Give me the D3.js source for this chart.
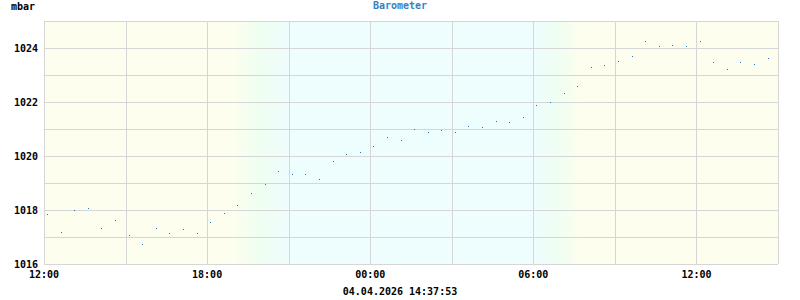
<!DOCTYPE html>
<html>
<head>
<meta charset="utf-8">
<script src="https://cdn.jsdelivr.net/npm/d3@7"></script>
<style>
  html, body { margin: 0; padding: 0; background: #fff; }
  svg text { font-family: "DejaVu Sans Mono", monospace; font-weight: bold; font-size: 10px; }
</style>
</head>
<body>
<div id="chart"></div>
<script>
// ── données ────────────────────────────────────────────────
const title     = 'Barometer';
const unitLabel = 'mbar';
const stamp     = '04.04.2026 14:37:53';

const startDay = '2026-04-03';
const nextDay  = '2026-04-04';
const xStart   = '2026-04-03T12:00';
const xEnd     = '2026-04-04T15:00';

const sampleTimes = [
  '12:08','12:38','13:08','13:38','14:08','14:38','15:08','15:38','16:08','16:38',
  '17:08','17:38','18:08','18:38','19:08','19:38','20:08','20:38','21:08','21:38',
  '22:08','22:38','23:08','23:38','00:08','00:38','01:08','01:38','02:08','02:38',
  '03:08','03:38','04:08','04:38','05:08','05:38','06:08','06:38','07:08','07:38',
  '08:08','08:38','09:08','09:38','10:08','10:38','11:08','11:38','12:08','12:38',
  '13:08','13:38','14:08','14:38'
];
const pressure = [
  1017.84, 1017.17, 1017.99, 1018.06, 1017.32, 1017.62, 1017.06, 1016.73, 1017.32, 1017.14,
  1017.29, 1017.14, 1017.54, 1017.88, 1018.17, 1018.62, 1018.95, 1019.43, 1019.32, 1019.32,
  1019.14, 1019.80, 1020.06, 1020.14, 1020.36, 1020.69, 1020.58, 1020.99, 1020.88, 1020.95,
  1020.88, 1021.10, 1021.06, 1021.29, 1021.25, 1021.43, 1021.88, 1021.99, 1022.32, 1022.58,
  1023.29, 1023.36, 1023.51, 1023.69, 1024.25, 1024.06, 1024.10, 1024.06, 1024.25, 1023.47,
  1023.21, 1023.47, 1023.40, 1023.62
];

const yDomain     = [1016, 1025];
const yGridStep   = 1;
const yLabelStep  = 2;
const xGridHours  = 3;
const xLabelHours = 6;

// crépuscule / aube : début et fin du dégradé
const dusk = ['2026-04-03T18:55', '2026-04-03T21:00'];
const dawn = ['2026-04-04T06:05', '2026-04-04T07:45'];

// ── mise en page ───────────────────────────────────────────
const W = 800, H = 300;
const plot = { left: 44, right: 778, top: 21, bottom: 264 };

const parse = d3.timeParse('%Y-%m-%dT%H:%M');

let dayIdx = 0, prevH = -1;
const points = sampleTimes.map((t, i) => {
  const h = +t.slice(0, 2);
  if (h < prevH) dayIdx++;
  prevH = h;
  return { t: parse(`${dayIdx ? nextDay : startDay}T${t}`), v: pressure[i] };
});

const x = d3.scaleTime().domain([parse(xStart), parse(xEnd)]).range([plot.left, plot.right]);
const y = d3.scaleLinear().domain(yDomain).range([plot.bottom, plot.top]);

const svg = d3.select('#chart').append('svg')
  .attr('width', W).attr('height', H)
  .attr('viewBox', `0 0 ${W} ${H}`);

// ── fond jour / nuit ───────────────────────────────────────
const dayCol = '#fefeee', midCol = '#eefef1', nightCol = '#eefdfd';
const defs = svg.append('defs');
const grad = defs.append('linearGradient')
  .attr('id', 'daynight')
  .attr('gradientUnits', 'userSpaceOnUse')
  .attr('x1', plot.left).attr('x2', plot.right)
  .attr('y1', 0).attr('y2', 0);

const span = plot.right - plot.left;
const off = d => Math.max(0, Math.min(1, (x(parse(d)) - plot.left) / span));
[
  [0, dayCol],
  [off(dusk[0]), dayCol],
  [(off(dusk[0]) + off(dusk[1])) / 2, midCol],
  [off(dusk[1]), nightCol],
  [off(dawn[0]), nightCol],
  [(off(dawn[0]) + off(dawn[1])) / 2, midCol],
  [off(dawn[1]), dayCol],
  [1, dayCol]
].forEach(([o, c]) => grad.append('stop').attr('offset', o).attr('stop-color', c));

svg.append('rect')
  .attr('x', plot.left).attr('y', plot.top)
  .attr('width', span).attr('height', plot.bottom - plot.top)
  .attr('fill', 'url(#daynight)');

// ── grille ─────────────────────────────────────────────────
const gridCol = '#d6d6d6';
const grid = svg.append('g')
  .attr('stroke', gridCol).attr('stroke-width', 1)
  .attr('shape-rendering', 'crispEdges');

const yTicks = d3.range(yDomain[0], yDomain[1] + 0.001, yGridStep);
grid.selectAll('line.h').data(yTicks).join('line')
  .attr('class', 'h')
  .attr('x1', plot.left).attr('x2', plot.right)
  .attr('y1', d => Math.round(y(d)) + 0.5).attr('y2', d => Math.round(y(d)) + 0.5);

const xTicks = d3.timeHour.every(xGridHours).range(parse(xStart), d3.timeMinute.offset(parse(xEnd), 1));
grid.selectAll('line.v').data(xTicks).join('line')
  .attr('class', 'v')
  .attr('y1', plot.top).attr('y2', plot.bottom)
  .attr('x1', d => Math.round(x(d)) + 0.5).attr('x2', d => Math.round(x(d)) + 0.5);

// ── points ─────────────────────────────────────────────────
svg.append('g')
  .attr('fill', '#2b6fb5')
  .attr('shape-rendering', 'crispEdges')
  .selectAll('rect').data(points).join('rect')
  .attr('x', d => Math.floor(x(d.t)))
  .attr('y', d => Math.floor(y(d.v)))
  .attr('width', 1).attr('height', 1);

// ── libellés ───────────────────────────────────────────────
svg.append('g').selectAll('text')
  .data(yTicks.filter(v => (v - yDomain[0]) % yLabelStep === 0))
  .join('text')
  .attr('x', 38).attr('y', d => y(d) + 4)
  .attr('text-anchor', 'end')
  .attr('fill', '#000')
  .text(d => d);

const fmt = d3.timeFormat('%H:%M');
svg.append('g').selectAll('text')
  .data(xTicks.filter(d => d.getHours() % xLabelHours === 0))
  .join('text')
  .attr('x', d => x(d)).attr('y', 278)
  .attr('text-anchor', 'middle')
  .attr('fill', '#000')
  .text(fmt);

svg.append('text')
  .attr('x', 11).attr('y', 10)
  .attr('fill', '#000')
  .text(unitLabel);

svg.append('text')
  .attr('x', W / 2).attr('y', 9)
  .attr('text-anchor', 'middle')
  .attr('fill', '#3a7fc0')
  .text(title);

svg.append('text')
  .attr('x', W / 2).attr('y', 295)
  .attr('text-anchor', 'middle')
  .attr('fill', '#000')
  .text(stamp);
</script>
</body>
</html>
